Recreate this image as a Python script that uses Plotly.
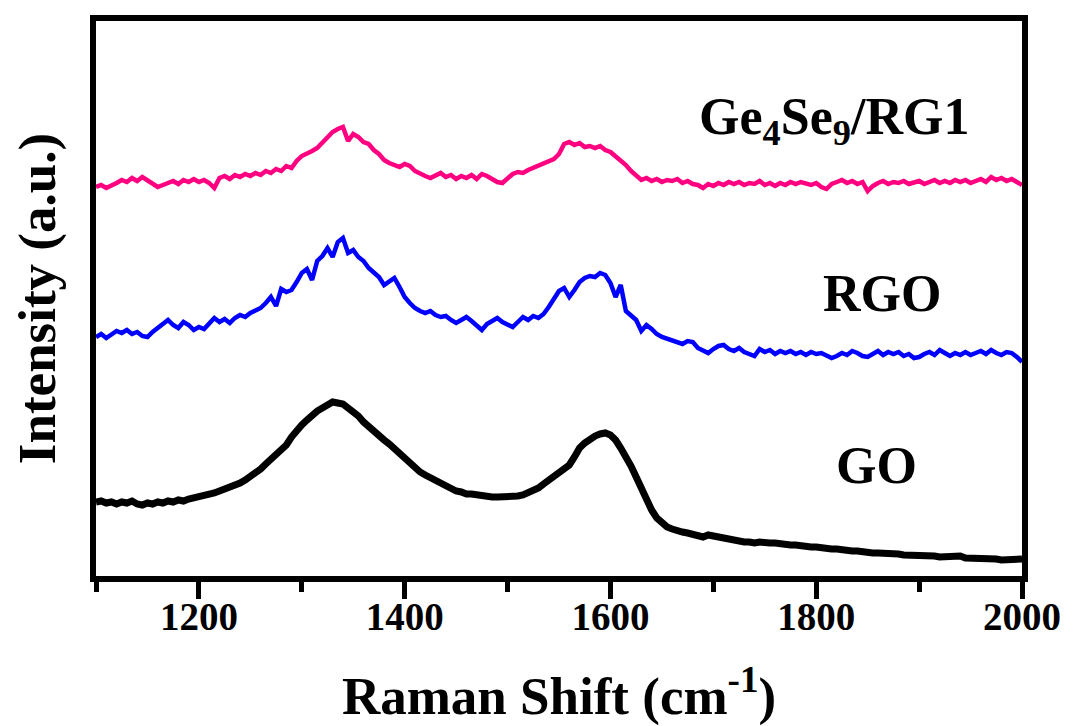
import numpy as np
import plotly.graph_objects as go

# Raman shift sampling (cm^-1)
raman_shift = list(range(1100, 2001, 5))

# Intensities (a.u., offset stacked as in the figure)
ge4se9_rg1 = [
    392, 394, 391, 393, 396, 399, 397, 401, 398, 402, 399, 396, 392, 394, 396, 398, 395, 399, 397, 400,
    397, 399, 396, 391, 401, 403, 400, 404, 402, 405, 403, 406, 404, 408, 406, 410, 408, 413, 411, 418,
    423, 425, 428, 431, 436, 441, 447, 450, 452, 438, 445, 442, 437, 435, 429, 425, 419, 416, 414, 412,
    415, 413, 408, 405, 403, 401, 404, 406, 402, 404, 400, 403, 401, 404, 400, 405, 403, 400, 397, 396,
    400, 405, 407, 406, 409, 411, 413, 415, 418, 420, 425, 435, 437, 434, 436, 432, 433, 431, 433, 429,
    427, 423, 419, 414, 408, 403, 399, 401, 398, 400, 397, 399, 398, 400, 396, 398, 395, 394, 391, 395,
    393, 396, 394, 397, 395, 397, 394, 396, 395, 398, 394, 396, 393, 396, 394, 397, 395, 397, 396, 394,
    396, 392, 390, 395, 397, 399, 396, 398, 395, 397, 388, 393, 396, 398, 395, 397, 396, 398, 395, 397,
    398, 395, 397, 399, 396, 398, 396, 399, 397, 399, 396, 398, 400, 397, 402, 399, 401, 398, 400, 397,
    394,
]

rgo = [
    242, 245, 241, 244, 248, 246, 249, 245, 247, 243, 242, 247, 251, 255, 259, 254, 251, 257, 254, 249,
    252, 250, 256, 261, 257, 260, 256, 261, 264, 262, 266, 268, 271, 276, 282, 273, 290, 287, 289, 297,
    306, 310, 299, 318, 323, 331, 322, 337, 341, 326, 329, 322, 318, 311, 307, 302, 294, 298, 301, 292,
    282, 276, 271, 268, 266, 268, 264, 262, 263, 259, 256, 259, 262, 258, 254, 249, 255, 258, 261, 257,
    254, 252, 257, 262, 259, 263, 261, 265, 272, 280, 288, 291, 282, 289, 297, 301, 303, 302, 306, 304,
    296, 282, 294, 268, 263, 259, 248, 254, 250, 245, 242, 240, 238, 237, 235, 238, 237, 231, 228, 226,
    230, 233, 234, 230, 228, 231, 227, 225, 223, 230, 227, 229, 225, 228, 226, 228, 225, 227, 224, 227,
    225, 226, 224, 221, 223, 226, 224, 228, 226, 223, 222, 225, 228, 224, 227, 225, 227, 223, 225, 221,
    222, 225, 227, 224, 229, 226, 223, 226, 224, 227, 224, 226, 228, 225, 229, 226, 224, 227, 226, 222,
    217,
]

go_spec = [
    77, 78, 76, 77, 75, 77, 76, 78, 75, 74, 76, 75, 77, 76, 78, 77, 79, 78, 80, 81,
    82, 83, 85, 86, 88, 90, 91, 94, 96, 99, 102, 106, 110, 115, 120, 124, 128, 134, 142, 149,
    154, 159, 164, 168, 171, 174, 177, 176, 175, 171, 168, 163, 157, 152, 148, 144, 139, 135, 130, 126,
    121, 116, 111, 107, 104, 101, 98, 95, 93, 91, 88, 87, 85, 85, 84, 83, 83, 82, 82, 82,
    82, 83, 83, 84, 86, 88, 91, 95, 99, 102, 105, 109, 114, 122, 131, 136, 140, 143, 145, 146,
    144, 139, 131, 123, 113, 102, 90, 79, 69, 61, 56, 52, 50, 48, 47, 46, 45, 43, 42, 44,
    43, 41, 40, 39, 38, 38, 37, 37, 36, 37, 36, 36, 36, 35, 35, 34, 34, 33, 33, 32,
    32, 31, 31, 30, 30, 29, 29, 28, 28, 27, 27, 26, 26, 26, 25, 25, 25, 24, 24, 24,
    23, 23, 23, 23, 22, 22, 22, 22, 23, 21, 21, 21, 20, 20, 20, 20, 19, 19, 19, 19,
    20,
]

assert len(raman_shift) == len(ge4se9_rg1) == len(rgo) == len(go_spec)

series_names = ["GO", "RGO", "Ge4Se9/RG1"]
x_ticks = [1200, 1400, 1600, 1800, 2000]

FONT = "Liberation Serif, Times New Roman, serif"

fig = go.Figure()
fig.add_trace(go.Scatter(x=raman_shift, y=go_spec, mode="lines", name=series_names[0],
                         line=dict(color="#000000", width=7)))
fig.add_trace(go.Scatter(x=raman_shift, y=rgo, mode="lines", name=series_names[1],
                         line=dict(color="#0000FF", width=4.5)))
fig.add_trace(go.Scatter(x=raman_shift, y=ge4se9_rg1, mode="lines", name=series_names[2],
                         line=dict(color="#FF0080", width=4.5)))

labels = [
    ("Ge<sub>4</sub>Se<sub>9</sub>/RG1", 1817, 459, 52),
    ("RGO", 1864, 286, 52),
    ("GO", 1859, 114, 52),
]
for text, lx, ly, fs in labels:
    fig.add_annotation(x=lx, y=ly, text=text, showarrow=False,
                       font=dict(family=FONT, size=fs, color="black", weight="bold"),
                       xanchor="center", yanchor="middle")

# page body has an 8px margin, so the figure is sized to fit the 1074x726 window
fig.update_layout(
    width=1066, height=718,
    margin=dict(l=88, r=52, t=13, b=150),
    paper_bgcolor="white", plot_bgcolor="white",
    showlegend=False,
    font=dict(family=FONT, color="black"),
)
fig.update_xaxes(
    range=[1100, 2000], automargin=False,
    tickvals=x_ticks, ticktext=[str(v) for v in x_ticks],
    ticks="outside", ticklen=17, tickwidth=5, tickcolor="black",
    ticklabelstandoff=-16,
    minor=dict(ticks="outside", ticklen=10, tickwidth=5, tickcolor="black", dtick=100, tick0=1100),
    showline=True, linewidth=6, linecolor="black", mirror=True,
    showgrid=False, zeroline=False,
    tickfont=dict(family=FONT, size=39, color="black", weight="bold"),
    title=dict(text="Raman Shift (cm<sup>-1</sup>)",
               font=dict(family=FONT, size=53, color="black", weight="bold"), standoff=42),
)
fig.update_yaxes(
    range=[3, 558], automargin=False,
    showticklabels=False, ticks="",
    showline=True, linewidth=6, linecolor="black", mirror=True,
    showgrid=False, zeroline=False,
    title=dict(text="Intensity (a.u.)",
               font=dict(family=FONT, size=53, color="black", weight="bold"), standoff=25),
)

fig.write_html("out.html")
